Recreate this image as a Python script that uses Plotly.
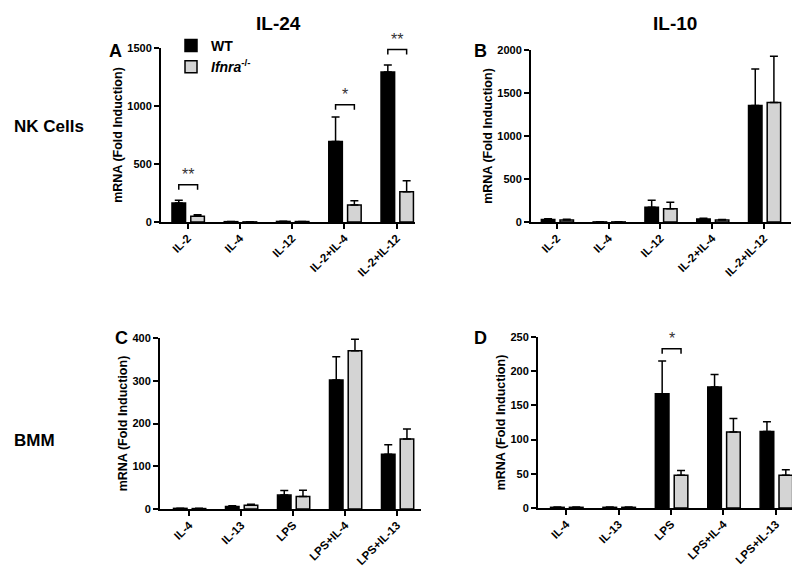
import plotly.graph_objects as go

# ---------------- data ----------------
nk_categories = ["IL-2", "IL-4", "IL-12", "IL-2+IL-4", "IL-2+IL-12"]
bmm_categories = ["IL-4", "IL-13", "LPS", "LPS+IL-4", "LPS+IL-13"]

# Panel A: IL-24, NK cells
a_wt = [164, 3, 5, 695, 1293]
a_wt_err = [23, 2, 2, 210, 60]
a_ko = [49, 1, 4, 147, 261]
a_ko_err = [14, 1, 1, 37, 95]

# Panel B: IL-10, NK cells
b_wt = [28, 1, 171, 35, 1355]
b_wt_err = [10, 1, 81, 10, 424]
b_ko = [24, 1, 155, 22, 1390]
b_ko_err = [8, 1, 74, 6, 536]

# Panel C: IL-24, BMM
c_wt = [1.5, 6, 32.5, 302, 128]
c_wt_err = [0.5, 1.5, 10.5, 54, 22]
c_ko = [1, 9, 29, 370, 164]
c_ko_err = [0.5, 2, 15, 27, 23]

# Panel D: IL-10, BMM
d_wt = [1, 1, 167, 177, 112]
d_wt_err = [0.5, 0.5, 48, 18, 14]
d_ko = [1, 1, 48, 111, 48]
d_ko_err = [0.5, 0.5, 7, 20, 8]

y_max = [1500, 2000, 400, 250]
y_dtick = [500, 500, 100, 50]

# significance: (panel index, category index, bracket height, label)
sig_panel = [0, 0, 0, 3]
sig_cat = [0, 3, 4, 2]
sig_y = [322, 1011, 1486, 233]
sig_label = ["**", "*", "**", "*"]

# ---------------- layout geometry ----------------
W, H = 800, 569
# pixel boxes (left, right, top, bottom) of each plot area
boxes = [(153, 407, 40, 214), (523, 783, 42, 214), (152, 413, 330, 501), (530, 793, 329, 500)]
xranges = [(-0.51, 4.35), (-0.5, 4.52), (-0.56, 4.46), (-0.54, 4.48)]

panels = [
    (nk_categories, a_wt, a_wt_err, a_ko, a_ko_err),
    (nk_categories, b_wt, b_wt_err, b_ko, b_ko_err),
    (bmm_categories, c_wt, c_wt_err, c_ko, c_ko_err),
    (bmm_categories, d_wt, d_wt_err, d_ko, d_ko_err),
]

FONT = "Liberation Sans, Arial, sans-serif"
BAR_W = 0.26
WT_OFF = -0.30
KO_OFF = 0.06

fig = go.Figure()
layout = dict(
    width=W, height=H, margin=dict(l=0, r=0, t=0, b=0),
    plot_bgcolor="white", paper_bgcolor="white",
    barmode="overlay", font=dict(family=FONT, color="black"),
    showlegend=True,
    legend=dict(x=163 / W, y=1 - 22 / H, xanchor="left", yanchor="top",
                font=dict(size=14, family=FONT, weight="bold"),
                bgcolor="rgba(0,0,0,0)", tracegroupgap=0, itemwidth=30),
)

shapes = []
annotations = []

for i, (cats, wt, wte, ko, koe) in enumerate(panels):
    xa = "x" if i == 0 else f"x{i+1}"
    ya = "y" if i == 0 else f"y{i+1}"
    l, r, t, b = boxes[i]
    xpos = list(range(len(cats)))
    fig.add_trace(go.Bar(
        x=xpos, y=wt, xaxis=xa, yaxis=ya, width=BAR_W, offset=WT_OFF,
        marker=dict(color="black", line=dict(color="black", width=1.5)),
        error_y=dict(type="data", array=wte, arrayminus=[0] * len(wte), symmetric=False,
                     color="black", thickness=1.5, width=4),
        name="WT", legendgroup="wt", showlegend=(i == 0), hoverinfo="skip"))
    fig.add_trace(go.Bar(
        x=xpos, y=ko, xaxis=xa, yaxis=ya, width=BAR_W, offset=KO_OFF,
        marker=dict(color="#d4d4d4", line=dict(color="black", width=1.5)),
        error_y=dict(type="data", array=koe, arrayminus=[0] * len(koe), symmetric=False,
                     color="black", thickness=1.5, width=4),
        name="<i>Ifnra</i><sup>-/-</sup>", legendgroup="ko", showlegend=(i == 0),
        hoverinfo="skip"))

    key_x = "xaxis" if i == 0 else f"xaxis{i+1}"
    key_y = "yaxis" if i == 0 else f"yaxis{i+1}"
    layout[key_x] = dict(
        domain=[l / W, r / W], anchor=ya, range=list(xranges[i]),
        tickmode="array", tickvals=xpos, ticktext=cats, tickangle=-45,
        tickfont=dict(size=11.5, family=FONT, weight="bold"),
        ticklabelstandoff=-2,
        showline=True, linecolor="black", linewidth=2,
        ticks="outside", ticklen=5, tickwidth=2, tickcolor="black",
        showgrid=False, zeroline=False, automargin=False, fixedrange=True)
    layout[key_y] = dict(
        domain=[1 - b / H, 1 - t / H], anchor=xa, range=[0, y_max[i]],
        dtick=y_dtick[i], tick0=0,
        tickfont=dict(size=11, family=FONT, weight="bold"),
        showline=True, linecolor="black", linewidth=2,
        ticks="outside", ticklen=5, tickwidth=2, tickcolor="black",
        showgrid=False, zeroline=False, automargin=False, fixedrange=True,
        title=dict(text="mRNA (Fold Induction)", standoff=2,
                   font=dict(size=12.5, family=FONT, weight="bold")))

# significance brackets
for p, c, h, lab in zip(sig_panel, sig_cat, sig_y, sig_label):
    xa = "x" if p == 0 else f"x{p+1}"
    ya = "y" if p == 0 else f"y{p+1}"
    l, r, t, b = boxes[p]
    leg = 5 * y_max[p] / (b - t)  # 5 px drop in data units
    x0 = c + WT_OFF + BAR_W / 2
    x1 = c + KO_OFF + BAR_W / 2
    shapes.append(dict(type="path", xref=xa, yref=ya,
                       path=f"M {x0},{h - leg} L {x0},{h} L {x1},{h} L {x1},{h - leg}",
                       line=dict(color="black", width=1.5)))
    annotations.append(dict(x=(x0 + x1) / 2, y=h, xref=xa, yref=ya, text=lab,
                            showarrow=False, yanchor="bottom", yshift=0,
                            font=dict(size=16, family=FONT, color="#333")))

# column titles, row labels, panel letters
def pa(px, py, text, size, xanchor="center"):
    annotations.append(dict(x=px / W, y=1 - py / H, xref="paper", yref="paper", text=text,
                            showarrow=False, xanchor=xanchor, yanchor="middle",
                            font=dict(size=size, family=FONT, weight="bold")))

pa(270, 15, "IL-24", 19)
pa(667, 15, "IL-10", 19)
pa(4, 118, "NK Cells", 17, "left")
pa(4, 432, "BMM", 17, "left")
pa(107, 43, "A", 18)
pa(472, 43, "B", 18)
pa(114, 330, "C", 18)
pa(472, 330, "D", 18)

layout["shapes"] = shapes
layout["annotations"] = annotations
fig.update_layout(**layout)
fig.write_html("out.html")
